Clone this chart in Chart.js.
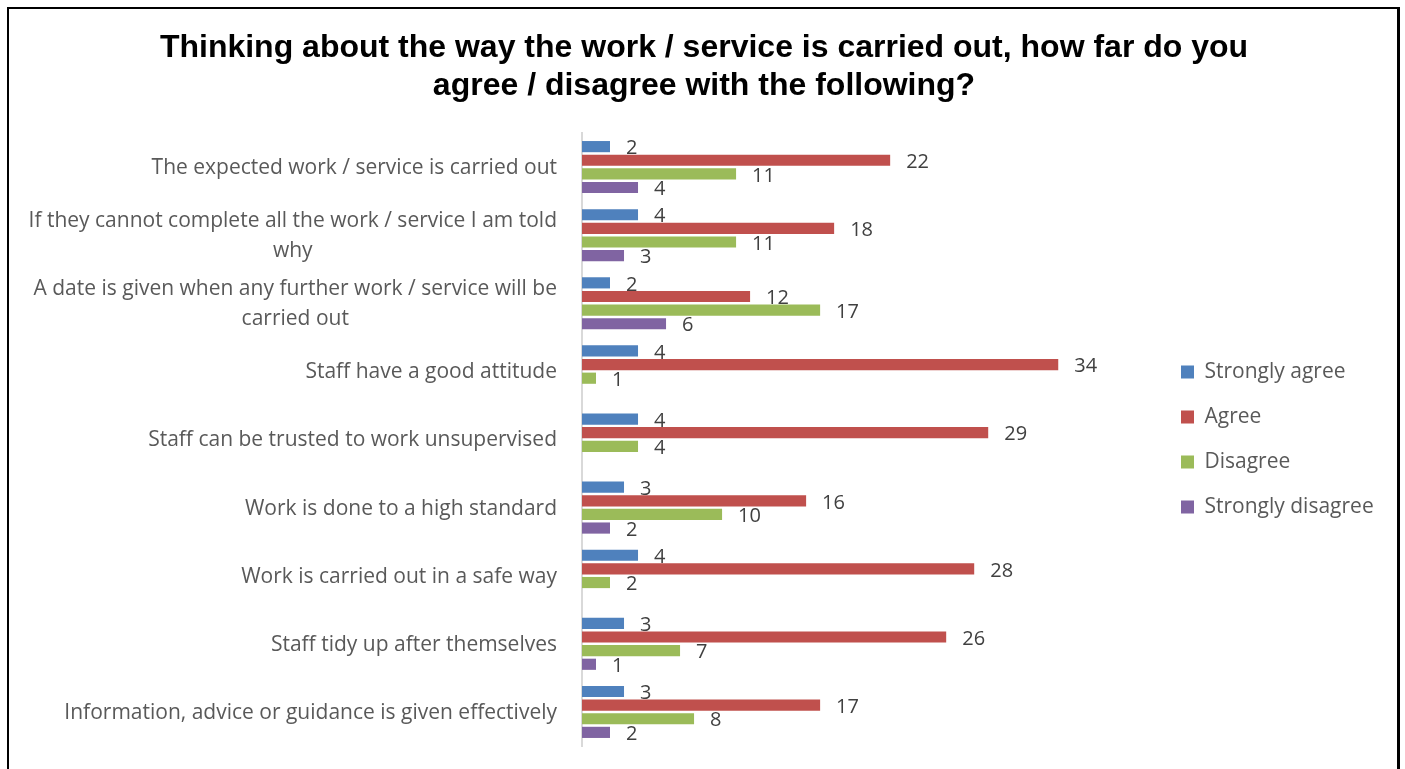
<!DOCTYPE html>
<html><head><meta charset="utf-8">
<script src="https://cdn.jsdelivr.net/npm/chart.js@4.4.1/dist/chart.umd.min.js"></script>
<style>
html,body{margin:0;padding:0;background:#fff;overflow:hidden}
#wrap{position:relative;width:1405px;height:769px}
#frame{position:absolute;left:7px;top:7px;width:1393px;height:800px;box-sizing:border-box;border-left:2.5px solid #000;border-top:2px solid #000;border-right:3px solid #000;pointer-events:none}
</style></head><body>
<div id="wrap"><canvas id="c"></canvas><div id="frame"></div></div>
<script>
const titleLines = ["Thinking about the way the work / service is carried out, how far do you", "agree / disagree with the following?"];
const categories = [
  ["The expected work / service is carried out"],
  ["If they cannot complete all the work / service I am told", "why"],
  ["A date is given when any further work / service will be", "carried out"],
  ["Staff have a good attitude"],
  ["Staff can be trusted to work unsupervised"],
  ["Work is done to a high standard"],
  ["Work is carried out in a safe way"],
  ["Staff tidy up after themselves"],
  ["Information, advice or guidance is given effectively"]
];
const seriesNames = ["Strongly agree", "Agree", "Disagree", "Strongly disagree"];
const stronglyAgree = [2, 4, 2, 4, 4, 3, 4, 3, 3];
const agree = [22, 18, 12, 34, 29, 16, 28, 26, 17];
const disagree = [11, 11, 17, 1, 4, 10, 2, 7, 8];
const stronglyDisagree = [4, 3, 6, null, null, 2, null, 1, 2];
const seriesColors = ["#4f81bd", "#c0504d", "#9bbb59", "#8064a2"];

const FONT = "'Open Sans'";
const CAT_SIZE = 21;
const VALUE_SIZE = 20;
const AXIS_X = 582;

const yLabelPlugin = {
  id: 'ylabels',
  afterDraw(chart) {
    const ctx = chart.ctx, y = chart.scales.y;
    ctx.save();
    ctx.font = CAT_SIZE + 'px ' + FONT;
    ctx.fillStyle = '#595959';
    ctx.textBaseline = 'middle';
    ctx.textAlign = 'center';
    categories.forEach((lines, i) => {
      const cy = y.getPixelForTick(i) + 1;
      const w = Math.max(...lines.map(l => ctx.measureText(l).width));
      const cx = chart.chartArea.left - 25 - w / 2;
      const lh = 30;
      lines.forEach((l, j) => ctx.fillText(l, cx, cy + (j - (lines.length - 1) / 2) * lh));
    });
    ctx.restore();
  }
};

const valueLabelPlugin = {
  id: 'valuelabels',
  afterDatasetsDraw(chart) {
    const ctx = chart.ctx;
    ctx.save();
    ctx.font = VALUE_SIZE + 'px ' + FONT;
    ctx.fillStyle = '#404040';
    ctx.textBaseline = 'middle';
    ctx.textAlign = 'left';
    chart.data.datasets.forEach((ds, i) => {
      const meta = chart.getDatasetMeta(i);
      meta.data.forEach((el, j) => {
        const v = ds.data[j];
        if (v === null || v === undefined) return;
        ctx.fillText(String(v), el.x + 16, el.y + 2);
      });
    });
    ctx.restore();
  }
};

function build() {
  const legendPad = 24;
  const legendBoxX = 1181;
  const xMax = 41.05;

  const chart = new Chart(document.getElementById('c'), {
    type: 'bar',
    data: {
      labels: categories,
      datasets: [stronglyAgree, agree, disagree, stronglyDisagree].map((d, i) => ({
        label: seriesNames[i],
        data: d,
        backgroundColor: seriesColors[i],
        borderWidth: 0,
        categoryPercentage: 0.8,
        barPercentage: 0.82
      }))
    },
    options: {
      indexAxis: 'y',
      responsive: true,
      maintainAspectRatio: false,
      animation: false,
      layout: { padding: { left: 30, right: 30, top: 0, bottom: 23 } },
      scales: {
        x: { display: false, min: 0, max: xMax },
        y: {
          grid: { display: false },
          border: { display: true, color: '#d9d9d9', width: 2 },
          ticks: { display: false },
          afterFit(scale) { scale.width = AXIS_X - scale.chart.options.layout.padding.left; }
        }
      },
      plugins: {
        title: {
          display: true,
          text: titleLines,
          color: '#000',
          font: { family: "'Liberation Sans', Arial, sans-serif", size: 32, weight: 'bold', lineHeight: 1.1875 },
          padding: { top: 29, bottom: 28 }
        },
        legend: {
          position: 'right',
          fullSize: false,
          labels: {
            boxWidth: 13,
            boxHeight: 13,
            padding: legendPad,
            color: '#595959',
            font: { family: FONT, size: CAT_SIZE }
          }
        },
        tooltip: { enabled: false }
      }
    },
    plugins: [yLabelPlugin, valueLabelPlugin]
  });

  // layout pass: legend boxes at the reference x, title centred on the page
  const hb = chart.legend.legendHitBoxes && chart.legend.legendHitBoxes[0];
  if (hb) {
    const pr = Math.max(0, 30 + (hb.left - legendBoxX));
    chart.options.layout.padding.right = pr;
    chart.options.layout.padding.left = pr + 3;
    chart.update();
  }
}

Promise.all([
  document.fonts.load(CAT_SIZE + "px 'Open Sans'"),
  document.fonts.load('bold 32px "Liberation Sans"')
]).then(build, build);
</script>
</body></html>
